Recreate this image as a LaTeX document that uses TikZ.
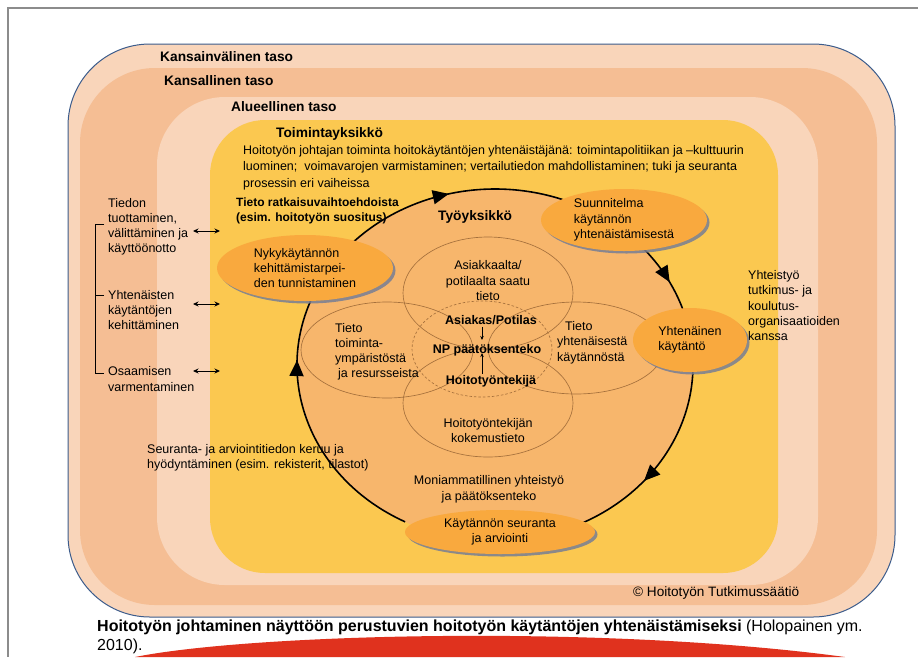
\documentclass[tikz,border=0pt]{standalone}
\usepackage{fontspec}
\setmainfont{Liberation Sans}
\usetikzlibrary{positioning,calc,shapes.geometric,shadows,arrows.meta,decorations.markings}

\definecolor{peachlt}{RGB}{249,213,186}
\definecolor{peachdk}{RGB}{245,190,148}
\definecolor{yell}{RGB}{251,200,80}
\definecolor{cycfill}{RGB}{247,182,108}
\definecolor{orng}{RGB}{249,169,62}
\definecolor{shadowgrey}{RGB}{120,126,148}
\definecolor{vennline}{RGB}{165,112,60}
\definecolor{frameblue}{RGB}{60,92,140}
\definecolor{slidegrey}{RGB}{140,140,140}
\definecolor{swoosh}{RGB}{224,50,30}

\begin{document}
\begin{tikzpicture}[x=1pt,y=-1pt,
    txt/.style={inner sep=0,align=left,font=\fontsize{12.5}{15.3}\selectfont},
    ctr/.style={inner sep=0,align=center,font=\fontsize{12.5}{15.5}\selectfont},
    hd/.style={inner sep=0,anchor=west,font=\fontsize{13.75}{16}\selectfont\bfseries},
    bld/.style={inner sep=1pt,font=\fontsize{12.5}{15}\selectfont\bfseries},
    stepell/.style={ellipse,fill=orng,inner sep=0,align=left,
      font=\fontsize{12.5}{15.3}\selectfont,
      drop shadow={shadow xshift=2.5pt,shadow yshift=-2.5pt,fill=shadowgrey,opacity=.85}},
    venn/.style={draw=vennline,line width=.65pt},
    cycline/.style={line width=1.6pt,
      decoration={markings,mark=at position #1 with {\arrow{Triangle[length=16pt,width=14pt]}}},
      postaction={decorate}},
    dbl/.style={{Stealth[length=5.5pt,width=5pt]}-{Stealth[length=5.5pt,width=5pt]},line width=.9pt},
    small/.style={-{Stealth[length=4pt,width=3.5pt]},line width=.7pt}]
  \useasboundingbox (0,0) rectangle (918,657);
  \fill[white] (0,0) rectangle (918,657);
  \draw[slidegrey,line width=1.2pt] (918,8) -- (8,8) -- (8,657);

  % levels
  \filldraw[fill=peachlt,draw=frameblue,line width=1pt,rounded corners=82pt] (68,44) rectangle (895,617);
  \fill[peachdk,rounded corners=75pt] (80,68) rectangle (877,605);
  \fill[peachlt,rounded corners=68pt] (157,97) rectangle (818,585);
  \fill[yell,rounded corners=55pt] (210,120) rectangle (778,573);
  \fill[swoosh] (135,657) .. controls (250,634) and (600,624) .. (845,657) -- cycle;

  \node[hd] (lvl_1) at (160,57)  {Kansainvälinen taso};
  \node[hd] (lvl_2) at (164,81)  {Kansallinen taso};
  \node[hd] (lvl_3) at (231,107) {Alueellinen taso};
  \node[hd] (lvl_4) at (276,134) {Toimintayksikkö};
  \node[txt,anchor=west,font=\fontsize{12.5}{16.5}\selectfont] (lead) at (243,167.7)
    {Hoitotyön johtajan toiminta hoitokäytäntöjen yhtenäistäjänä: toimintapolitiikan ja –kulttuurin\\
     luominen;\ \ voimavarojen varmistaminen; vertailutiedon mahdollistaminen; tuki ja seuranta\\
     prosessin eri vaiheissa};

  % left column
  \node[txt,anchor=west] (left_1) at (108,226.8) {Tiedon\\tuottaminen,\\välittäminen ja\\käyttöönotto};
  \node[txt,anchor=west] (left_2) at (108,310)   {Yhtenäisten\\käytäntöjen\\kehittäminen};
  \node[txt,anchor=west] (left_3) at (108,379)   {Osaamisen\\varmentaminen};
  \draw[line width=.8pt] (104,224) -| (95,373) -- (104,373);
  \draw[line width=.8pt] (95,295) -- (104,295);
  \foreach \yy in {231,304,371}
    \draw[dbl] (193,\yy) -- (220,\yy);

  \node[txt,anchor=west] (coop) at (748,305.8) {Yhteistyö\\tutkimus- ja\\koulutus-\\organisaatioiden\\kanssa};

  % work unit
  \coordinate (cyc) at (495,365);
  \fill[cycfill] (cyc) ellipse [x radius=198,y radius=176];
  \node[inner sep=0,anchor=west,align=left,font=\fontsize{12}{15}\selectfont\bfseries] (sol) at (236,210.5)
    {Tieto ratkaisuvaihtoehdoista\\(esim. hoitotyön suositus)};
  \node[hd] (work) at (438,217) {Työyksikkö};

  % knowledge sources
  \coordinate (np_c) at (482,349);
  \draw[venn] (488,293) ellipse [x radius=85,y radius=56];
  \draw[venn] (488,403) ellipse [x radius=85,y radius=54];
  \draw[venn] (387,350) ellipse [x radius=86,y radius=48];
  \draw[venn] (576,348) ellipse [x radius=88,y radius=46];
  \draw[venn,dash pattern=on 2.5pt off 2pt] (np_c) ellipse [x radius=70,y radius=48];
  \node[ctr] (v_top) at (488,280.7) {Asiakkaalta/\\potilaalta saatu\\tieto};
  \node[txt,anchor=west] (v_left) at (335,351.8) {Tieto\\toiminta-\\ympäristöstä\\\hspace*{3pt}ja resursseista};
  \node[txt,anchor=west] (v_right) at (557,342.7) {\hspace*{8pt}Tieto\\yhtenäisestä\\käytännöstä};
  \node[ctr] (v_bot) at (488,430.5) {Hoitotyöntekijän\\kokemustieto};
  \node[bld] (asiakas) at (491,320) {Asiakas/Potilas};
  \node[bld] (np)      at (487,350) {NP päätöksenteko};
  \node[bld] (hoit)    at (491,381) {Hoitotyöntekijä};
  \draw[small,shorten <=1pt,shorten >=3pt] (asiakas.south -| np_c) -- (np.north -| np_c);
  \draw[small] (hoit.north -| np_c) -- ($(np.south -| np_c)+(0,-4)$);

  \node[ctr] (multi) at (489,489.5) {Moniammatillinen yhteistyö\\ja päätöksenteko};
  \node[txt,anchor=west] (follow) at (147,457.5)
    {Seuranta- ja arviointitiedon keruu ja\\hyödyntäminen (esim. rekisterit, tilastot)};

  % cycle
  \draw[cycline=0.5]  ($(cyc)+(220:198 and 176)$) arc[start angle=220,end angle=292,x radius=198,y radius=176];
  \draw[cycline=0.57] ($(cyc)+(315:198 and 176)$) arc[start angle=315,end angle=345,x radius=198,y radius=176];
  \draw[cycline=0.62] ($(cyc)+(0:198 and 176)$)   arc[start angle=0,end angle=65,x radius=198,y radius=176];
  \draw[cycline=0.74] ($(cyc)+(117:198 and 176)$) arc[start angle=117,end angle=205,x radius=198,y radius=176];

  \node[stepell,minimum width=176pt,minimum height=66pt] (nyky) at (305,268)
    {Nykykäytännön\\kehittämistarpei-\\den tunnistaminen};
  \node[stepell,minimum width=166pt,minimum height=62pt] (suun) at (624,220)
    {Suunnitelma\\käytännön\\yhtenäistämisestä};
  \node[stepell,minimum width=114pt,minimum height=64pt] (yht) at (690,340)
    {Yhtenäinen\\käytäntö};
  \node[stepell,align=center,minimum width=190pt,minimum height=44pt] (kayt) at (500,532)
    {Käytännön seuranta\\ja arviointi};

  \node[inner sep=0,anchor=west,font=\fontsize{13.6}{16}\selectfont] (copy) at (633,593) {© Hoitotyön Tutkimussäätiö};
  \node[inner sep=0,anchor=west,align=left,font=\fontsize{16}{19}\selectfont] (caption) at (97,636.5)
    {\textbf{Hoitotyön johtaminen näyttöön perustuvien hoitotyön käytäntöjen yhtenäistämiseksi} (Holopainen ym.\\2010).};
\end{tikzpicture}
\end{document}
